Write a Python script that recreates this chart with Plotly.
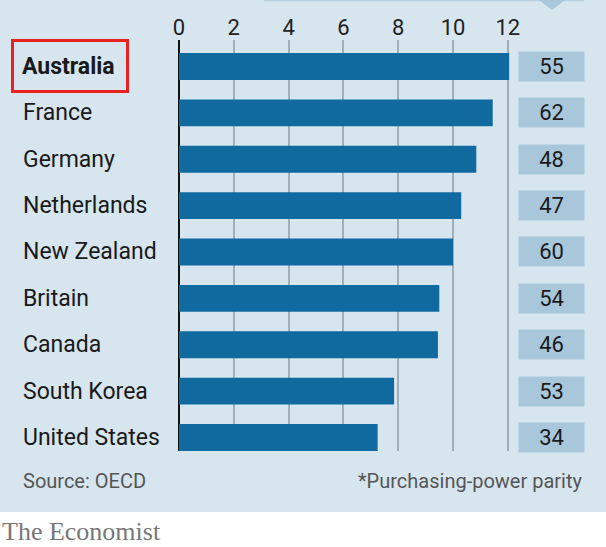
import plotly.graph_objects as go

countries = ["Australia", "France", "Germany", "Netherlands", "New Zealand",
             "Britain", "Canada", "South Korea", "United States"]
values = [12.05, 11.45, 10.85, 10.3, 10.0, 9.5, 9.45, 7.85, 7.25]
box_values = ["55", "62", "48", "47", "60", "54", "46", "53", "34"]
tick_vals = [0, 2, 4, 6, 8, 10, 12]

W, H = 606, 547
L, R_EDGE, T, B = 179, 590, 40, 451  # reference pixels
PW, PH = R_EDGE - L, B - T

def px(x):
    return (x - L) / PW

def py(y):
    return (B - y) / PH

BG = "#d6e5ee"
BAR = "#106aa0"
BOX = "#a8c7db"
FONT = "Roboto"

fig = go.Figure()
fig.add_trace(go.Bar(
    x=values, y=countries, orientation="h",
    marker=dict(color=BAR, line=dict(width=0)),
    width=0.58, hoverinfo="skip",
))

annotations = []
for c in countries:
    if c == "Australia":
        annotations.append(dict(
            x=px(11), y=c, xref="paper", yref="y", xanchor="left", yanchor="middle",
            text="<b>Australia</b>", showarrow=False, align="left",
            font=dict(family=FONT, size=23, color="#1a1a1a"),
            bordercolor="#e8231f", borderwidth=3, borderpad=8,
            width=96, height=32,
        ))
    else:
        annotations.append(dict(
            x=px(21), y=c, xref="paper", yref="y", xanchor="left", yanchor="middle",
            text=c, showarrow=False, align="left",
            font=dict(family=FONT, size=23, color="#1a1a1a"),
        ))

for c, v in zip(countries, box_values):
    annotations.append(dict(
        x=px(551.5), y=c, xref="paper", yref="y", xanchor="center", yanchor="middle",
        text=v, showarrow=False, width=63, height=27, bgcolor=BOX,
        font=dict(family=FONT, size=22, color="#1a1a1a"),
    ))

annotations += [
    dict(x=px(21), y=py(481), xref="paper", yref="paper", xanchor="left", yanchor="middle",
         text="Source: OECD", showarrow=False,
         font=dict(family=FONT, size=20, color="#555555")),
    dict(x=px(585), y=py(481), xref="paper", yref="paper", xanchor="right", yanchor="middle",
         text="*Purchasing-power parity", showarrow=False,
         font=dict(family=FONT, size=20, color="#555555")),
    dict(x=px(0), y=py(531), xref="paper", yref="paper", xanchor="left", yanchor="middle",
         text="The Economist", showarrow=False,
         font=dict(family="Liberation Serif", size=26, color="#777777")),
]

shapes = [
    dict(type="rect", xref="paper", yref="paper", x0=px(0), x1=px(606), y0=py(512), y1=py(0),
         fillcolor=BG, line=dict(width=0), layer="below"),
    dict(type="line", xref="paper", yref="paper", x0=px(264), x1=px(584), y0=py(0.5), y1=py(0.5),
         line=dict(color="#b9d0de", width=1.5)),
    dict(type="path", xref="paper", yref="paper",
         path=f"M {px(539)},{py(0)} L {px(565)},{py(0)} L {px(552)},{py(10)} Z",
         fillcolor=BOX, line=dict(width=0)),
]

fig.update_layout(
    width=W, height=H,
    margin=dict(l=L, r=W - R_EDGE, t=T, b=H - B, pad=0, autoexpand=False),
    paper_bgcolor="white", plot_bgcolor="rgba(0,0,0,0)",
    showlegend=False,
    annotations=annotations, shapes=shapes,
    xaxis=dict(
        range=[0, 15], side="top", tickvals=tick_vals, automargin=False,
        showgrid=True, gridcolor="#9eafba", gridwidth=1.5,
        zeroline=True, zerolinecolor="#111111", zerolinewidth=2,
        showline=False, ticks="", ticklabelstandoff=0,
        tickfont=dict(family=FONT, size=22, color="#222222"),
        fixedrange=True,
    ),
    yaxis=dict(
        type="category", categoryorder="array", categoryarray=countries,
        range=[8.29, -0.57], showticklabels=False, showgrid=False, automargin=False,
        zeroline=False, showline=False, ticks="", fixedrange=True,
    ),
)

fig.write_html("out.html", config={"displayModeBar": False},
               post_script="document.body.style.margin='0';document.body.style.overflow='hidden';")
